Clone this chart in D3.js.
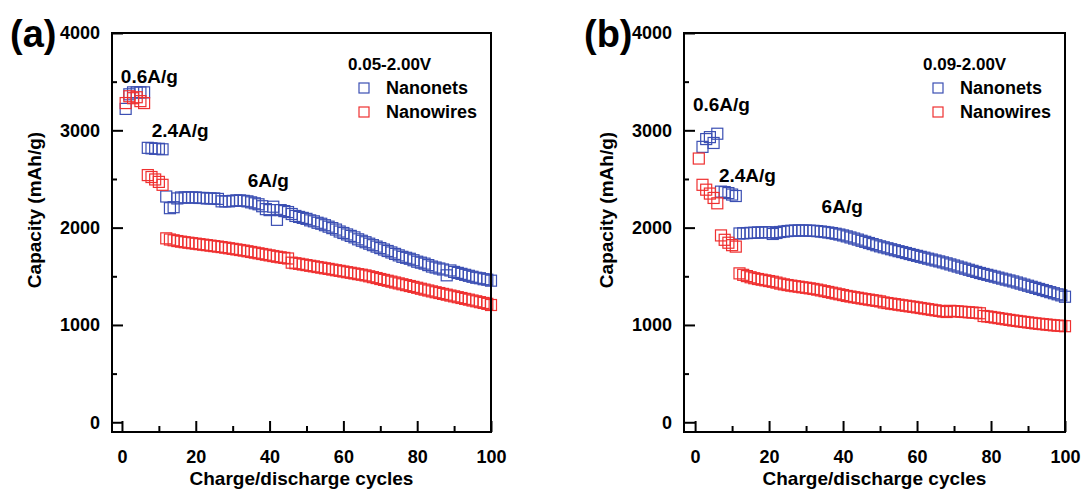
<!DOCTYPE html>
<html>
<head>
<meta charset="utf-8">
<script src="https://cdn.jsdelivr.net/npm/d3@7"></script>
<style>
  html, body { margin: 0; padding: 0; background: #fff; }
  svg { display: block; }
  text { font-family: Arial, "Liberation Sans", sans-serif; font-weight: bold; fill: #000; }
</style>
</head>
<body>
<svg id="chart" width="1083" height="491"></svg>
<script>
// ---------- DATA (capacity in mAh/g, index 0 = cycle 1) ----------
const xTicks = [0, 20, 40, 60, 80, 100];
const yTicks = [0, 1000, 2000, 3000, 4000];
const seriesNames = ["Nanonets", "Nanowires"];
const panelLabels = ["(a)", "(b)"];
const voltageLabels = ["0.05-2.00V", "0.09-2.00V"];
const rateLabels = ["0.6A/g", "2.4A/g", "6A/g"];

const nanonetsA = [
  3220, 3370, 3390, 3390, 3390, 3390, 2820, 2815, 2810, 2810,
  2805, 2320, 2200, 2210, 2300, 2310, 2310, 2310, 2310, 2310,
  2305, 2305, 2300, 2300, 2300, 2295, 2270, 2270, 2270, 2275,
  2280, 2280, 2275, 2270, 2260, 2250, 2240, 2220, 2190, 2180,
  2215, 2080, 2180, 2170, 2160, 2140, 2120, 2110, 2100, 2090,
  2075, 2065, 2050, 2040, 2025, 2010, 1995, 1980, 1960, 1945,
  1930, 1915, 1900, 1880, 1865, 1850, 1835, 1820, 1805, 1790,
  1775, 1760, 1745, 1730, 1715, 1700, 1690, 1680, 1665, 1650,
  1640, 1630, 1615, 1600, 1590, 1580, 1570, 1510, 1560, 1545,
  1535, 1525, 1515, 1505, 1495, 1485, 1480, 1470, 1465, 1455
];
const nanowiresA = [
  3280, 3350, 3330, 3340, 3300, 3280, 2540, 2520, 2495, 2470,
  2440, 1890, 1878, 1870, 1862, 1856, 1850, 1845, 1840, 1835,
  1830, 1825, 1820, 1815, 1810, 1805, 1800, 1794, 1788, 1782,
  1776, 1770, 1764, 1757, 1750, 1743, 1736, 1729, 1722, 1715,
  1708, 1701, 1695, 1689, 1683, 1640, 1634, 1628, 1621, 1615,
  1608, 1602, 1595, 1589, 1582, 1576, 1569, 1562, 1556, 1549,
  1542, 1536, 1529, 1522, 1516, 1509, 1500, 1491, 1482, 1472,
  1463, 1454, 1445, 1436, 1427, 1418, 1409, 1400, 1391, 1382,
  1372, 1363, 1354, 1345, 1336, 1328, 1319, 1311, 1302, 1294,
  1285, 1277, 1268, 1260, 1251, 1243, 1234, 1226, 1217, 1205
];
const nanonetsB = [
  null, 2830, 2910, 2930, 2870, 2965, 2370, 2365, 2355, 2340,
  2325, 1940, 1942, 1944, 1946, 1948, 1950, 1951, 1952, 1953,
  1935, 1945, 1955, 1960, 1965, 1968, 1970, 1971, 1971, 1970,
  1969, 1967, 1964, 1960, 1955, 1950, 1944, 1937, 1929, 1920,
  1910, 1899, 1888, 1877, 1865, 1854, 1842, 1831, 1819, 1808,
  1798, 1788, 1778, 1768, 1758, 1749, 1739, 1729, 1719, 1710,
  1700, 1691, 1681, 1672, 1662, 1653, 1643, 1633, 1622, 1611,
  1600, 1589, 1578, 1567, 1556, 1545, 1534, 1524, 1515, 1505,
  1496, 1486, 1476, 1466, 1457, 1447, 1436, 1425, 1414, 1403,
  1392, 1381, 1370, 1359, 1348, 1337, 1326, 1315, 1304, 1290
];
const nanowiresB = [
  2710, 2440, 2390, 2350, 2305, 2250, 1920, 1875, 1845, 1820,
  1805, 1530, 1515, 1502, 1490, 1480, 1472, 1465, 1458, 1451,
  1444, 1435, 1425, 1417, 1410, 1404, 1398, 1393, 1387, 1382,
  1376, 1370, 1363, 1355, 1347, 1339, 1331, 1323, 1315, 1307,
  1298, 1292, 1285, 1279, 1272, 1266, 1260, 1254, 1248, 1242,
  1231, 1225, 1219, 1214, 1208, 1202, 1197, 1191, 1186, 1180,
  1174, 1168, 1162, 1156, 1150, 1144, 1138, 1133, 1145, 1142,
  1139, 1136, 1133, 1130, 1127, 1124, 1120, 1092, 1087, 1082,
  1076, 1070, 1064, 1058, 1052, 1046, 1041, 1036, 1031, 1026,
  1021, 1016, 1012, 1008, 1004, 1000, 996, 993, 990, 987
];

// ---------- LAYOUT ----------
const colors = ["#3b4fb3", "#ef3030"];
const svg = d3.select("#chart");

const panels = [
  { left: 112, right: 491, xMin: -2.7, label: panelLabels[0], labelX: 10, yTitleX: 41,
    volt: voltageLabels[0], legX: 348, legMarkX: 364, legTextX: 386,
    series: [nanonetsA, nanowiresA],
    rates: [[-0.3, 3486], [8.05, 2928], [34.1, 2421]] },
  { left: 684, right: 1065, xMin: -3.0, label: panelLabels[1], labelX: 584, yTitleX: 613,
    volt: voltageLabels[1], legX: 923, legMarkX: 938, legTextX: 960,
    series: [nanonetsB, nanowiresB],
    rates: [[-0.6, 3199], [6.45, 2472], [34.2, 2150]] }
];
const plotTop = 33, plotBottom = 432;
const FONT = "Arial, 'Liberation Sans', sans-serif";
const M = 11; // marker side

panels.forEach(p => {
  const x = d3.scaleLinear().domain([p.xMin, 100]).range([p.left, p.right]);
  const y = d3.scaleLinear().domain([-100, 4000]).range([plotBottom, plotTop]);
  const g = svg.append("g");

  // markers: blue first, red on top
  p.series.forEach((vals, si) => {
    const pts = vals.map((v, i) => ({ c: i + 1, v })).filter(d => d.v != null);
    g.append("g").selectAll("rect").data(pts).enter().append("rect")
      .attr("x", d => x(d.c) - M / 2)
      .attr("y", d => y(d.v) - M / 2)
      .attr("width", M).attr("height", M)
      .attr("fill", "none")
      .attr("stroke", colors[si])
      .attr("stroke-width", 1.2);
  });

  // bottom axis (ticks inward)
  const xAxis = d3.axisBottom(x).tickValues(xTicks).tickSize(-11).tickPadding(18).tickFormat(d3.format("d"));
  const xg = g.append("g").attr("transform", `translate(0,${plotBottom})`).call(xAxis);
  const xMinor = d3.axisBottom(x).tickValues([10, 30, 50, 70, 90]).tickSize(-6).tickFormat("");
  const xg2 = g.append("g").attr("transform", `translate(0,${plotBottom})`).call(xMinor);
  // left axis (ticks inward)
  const yAxis = d3.axisLeft(y).tickValues(yTicks).tickSize(-11).tickPadding(12).tickFormat(d3.format("d"));
  const yg = g.append("g").attr("transform", `translate(${p.left},0)`).call(yAxis);
  const yMinor = d3.axisLeft(y).tickValues([500, 1500, 2500, 3500]).tickSize(-5).tickFormat("");
  const yg2 = g.append("g").attr("transform", `translate(${p.left},0)`).call(yMinor);

  [xg, xg2, yg, yg2].forEach(a => {
    a.select(".domain").remove();
    a.selectAll("line").attr("stroke", "#000").attr("stroke-width", 2);
  });
  [xg, yg].forEach(a => a.selectAll("text")
    .attr("font-size", 18).attr("font-family", FONT).attr("font-weight", "bold").attr("fill", "#000"));

  // frame
  g.append("rect").attr("x", p.left).attr("y", plotTop)
    .attr("width", p.right - p.left).attr("height", plotBottom - plotTop)
    .attr("fill", "none").attr("stroke", "#000").attr("stroke-width", 2);

  // axis titles
  g.append("text").attr("x", (p.left + p.right) / 2).attr("y", 485)
    .attr("text-anchor", "middle").attr("font-size", 19).text("Charge/discharge cycles");
  g.append("text").attr("transform", `translate(${p.yTitleX},210) rotate(-90)`)
    .attr("text-anchor", "middle").attr("font-size", 19).text("Capacity (mAh/g)");

  // panel label
  g.append("text").attr("x", p.labelX).attr("y", 47).attr("font-size", 38).text(p.label);

  // rate annotations
  p.rates.forEach((r, i) => {
    g.append("text").attr("x", x(r[0])).attr("y", y(r[1])).attr("font-size", 19).text(rateLabels[i]);
  });

  // legend
  g.append("text").attr("x", p.legX).attr("y", 70).attr("font-size", 17).text(p.volt);
  seriesNames.forEach((name, i) => {
    const cy = 88 + i * 24;
    g.append("rect").attr("x", p.legMarkX - 5).attr("y", cy - 5).attr("width", 10).attr("height", 10)
      .attr("fill", "none").attr("stroke", colors[i]).attr("stroke-width", 1.2);
    g.append("text").attr("x", p.legTextX).attr("y", cy + 6).attr("font-size", 18).text(name);
  });
});
</script>
</body>
</html>
